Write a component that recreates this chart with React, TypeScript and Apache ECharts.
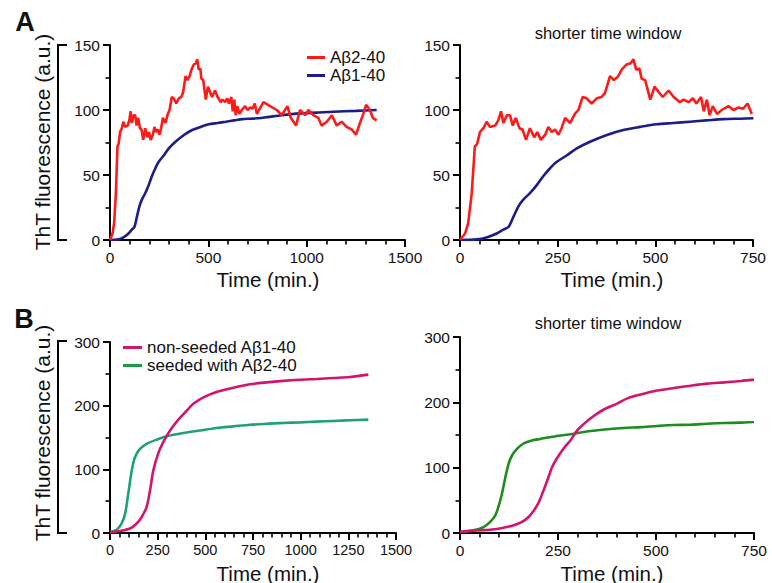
import React, { useEffect, useRef } from "react";
import * as echarts from "echarts";

const FONT = "'Liberation Sans', Arial, Helvetica, sans-serif";

// Panel A: Aβ2-40 (red) and Aβ1-40 (blue), minutes vs ThT fluorescence (a.u.)
const ab240Time = [0, 13, 21, 30, 38, 44, 51, 60, 68, 77, 90, 98, 105, 111, 120, 128, 135, 143, 152, 160, 169, 179, 190, 198, 207, 218, 226, 235, 243, 252, 260, 269, 282, 294, 303, 314, 324, 337, 350, 362, 371, 384, 394, 405, 414, 426, 437, 444, 451, 459, 465, 474, 487, 498, 508, 519, 534, 547, 563, 572, 585, 596, 605, 617, 624, 632, 639, 647, 658, 670, 687, 700, 713, 725, 736, 747, 780, 814, 848, 873, 902, 919, 946, 966, 992, 1009, 1034, 1059, 1076, 1102, 1128, 1153, 1178, 1203, 1229, 1251, 1271, 1288, 1302, 1322, 1336, 1356];
const ab240Value = [0, 5, 13, 36, 72, 74, 83, 86, 91, 87, 88, 92, 99, 90, 96, 96, 88, 94, 86, 85, 77, 86, 79, 83, 77, 81, 87, 83, 85, 81, 86, 94, 90, 97, 100, 110, 109, 105, 109, 110, 113, 126, 123, 126, 131, 135, 136, 139, 131, 132, 124, 123, 108, 118, 114, 110, 115, 110, 106, 108, 106, 109, 105, 110, 99, 108, 96, 103, 97, 100, 103, 100, 102, 101, 105, 97, 106, 103, 100, 96, 103, 94, 88, 100, 96, 100, 96, 94, 88, 91, 96, 88, 91, 87, 85, 81, 90, 97, 104, 100, 94, 92];
const ab140Time = [0, 43, 68, 94, 111, 124, 137, 150, 162, 179, 196, 213, 230, 247, 273, 299, 333, 376, 418, 461, 503, 546, 589, 631, 674, 717, 751, 800, 873, 966, 1050, 1136, 1250, 1356];
const ab140Value = [0, 0.5, 2, 5, 8, 10, 18, 26, 31, 36, 42, 49, 55, 60, 65, 70.5, 75.6, 80.8, 84.6, 87, 89, 90, 91, 92, 93, 93.3, 93.6, 94.5, 96, 97.4, 98, 98.7, 99.3, 100];

// Panel B left (full time course)
const nonSeededLeftTime = [0, 52, 105, 140, 166, 192, 210, 227, 253, 280, 315, 350, 402, 437, 490, 559, 647, 734, 822, 909, 996, 1084, 1171, 1259, 1355];
const nonSeededLeftValue = [1, 3, 7, 15, 25, 41, 67, 98, 125, 143, 161, 175, 192, 203, 213, 221.5, 228, 233.5, 236.6, 239, 240.8, 242, 243.5, 245, 248.7];
const seededLeftTime = [0, 35, 61, 79, 96, 114, 131, 157, 192, 245, 297, 385, 472, 559, 647, 734, 822, 909, 996, 1084, 1171, 1259, 1355];
const seededLeftValue = [1.5, 5, 15, 30, 62, 98, 119, 132, 140, 146.6, 151.8, 157, 161, 165, 167.5, 170, 171.7, 172.8, 173.8, 174.9, 176, 177, 178];

// Panel B right (shorter time window)
const nonSeededRightTime = [0, 43, 77, 111, 137, 158, 175, 188, 201, 213, 226, 235, 247, 264, 282, 299, 316, 341, 367, 401, 427, 461, 503, 546, 589, 631, 674, 717, 750];
const nonSeededRightValue = [1.5, 4, 5, 8, 12, 17, 24.5, 34, 47, 65, 86, 101, 114, 129, 142, 157, 167, 179, 189, 198, 206, 212, 218, 222, 225.5, 228.6, 230.6, 232.7, 234.7];
const seededRightTime = [0, 34, 60, 77, 90, 98, 107, 116, 124, 133, 146, 162, 179, 205, 247, 290, 333, 376, 418, 461, 503, 546, 589, 631, 674, 717, 750];
const seededRightValue = [1.5, 4, 9, 17, 27, 40, 60, 86, 106, 119, 129, 137, 141, 144, 148.5, 152, 156, 158.7, 160.7, 162, 163.8, 165.3, 165.8, 167.3, 168.4, 168.9, 170];

// Axis scales: [max, label step, minor ticks per label step]
const xScaleALeft = [1500, 500, 5];
const xScaleRight = [750, 250, 5];
const xScaleBLeft = [1500, 250, 5];
const yScaleA = [150, 50, 2];
const yScaleB = [300, 100, 2];

const zip = (t: number[], v: number[], maxT = Infinity) =>
  t.map((x, i) => [x, v[i]]).filter((p) => p[0] <= maxT);

const RED = "#ff1a1a";
const BLUE = "#1c1c8a";
const PINK = "#d4136e";
const TEAL = "#1fa07a";
const GREEN = "#1f8c1f";
const TXT = "#111";
const plain = (v: number) => String(v);

function axisFor(kind: "x" | "y", gridIndex: number, sc: number[], fontSize = 15.5) {
  return {
    type: "value",
    gridIndex,
    min: 0,
    max: sc[0],
    interval: sc[1],
    splitLine: { show: false },
    minorSplitLine: { show: false },
    axisLine: { show: true, onZero: false, lineStyle: { color: "#000", width: 2 } },
    axisTick: { show: true, inside: false, length: 7, lineStyle: { color: "#000", width: 2 } },
    minorTick: { show: true, splitNumber: sc[2], length: 4.5, lineStyle: { color: "#000", width: 1.6 } },
    axisLabel: {
      fontSize,
      color: TXT,
      fontFamily: FONT,
      margin: kind === "x" ? 9 : 10,
      showMaxLabel: true,
      formatter: plain,
    },
  };
}

function line(name: string, data: number[][], color: string, xi: number, smooth: number | boolean = false) {
  return {
    type: "line", name, data, xAxisIndex: xi, yAxisIndex: xi, symbol: "none", smooth, clip: true,
    lineStyle: { color, width: 2.6 }, itemStyle: { color },
  };
}

function text(x: number, y: number, str: string, fontSize: number, extra: any = {}) {
  return {
    type: "text", x, y, rotation: extra.rotation || 0,
    style: { text: str, fontSize, fontFamily: FONT, fontWeight: extra.bold ? "bold" : "normal", fill: TXT, align: "center", verticalAlign: "middle" },
  };
}

function bracket(top: number, bottom: number) {
  return {
    type: "polyline",
    shape: { points: [[67, top], [58, top], [58, bottom], [67, bottom]] },
    style: { stroke: "#000", lineWidth: 2, fill: "none" },
  };
}

const option = {
  animation: false,
  backgroundColor: "#fff",
  textStyle: { fontFamily: FONT },
  grid: [
    { left: 110, top: 45, width: 295, height: 195 },
    { left: 460, top: 45, width: 293, height: 195 },
    { left: 110, top: 342, width: 286, height: 191 },
    { left: 460, top: 337, width: 294, height: 196 },
  ],
  xAxis: [
    axisFor("x", 0, xScaleALeft),
    axisFor("x", 1, xScaleRight),
    axisFor("x", 2, xScaleBLeft, 14.5),
    axisFor("x", 3, xScaleRight),
  ],
  yAxis: [axisFor("y", 0, yScaleA), axisFor("y", 1, yScaleA), axisFor("y", 2, yScaleB), axisFor("y", 3, yScaleB)],
  legend: [
    {
      left: 302, top: 44, orient: "vertical", icon: "rect", itemWidth: 18, itemHeight: 3, itemGap: 1, selectedMode: false,
      textStyle: { fontSize: 17, color: TXT, fontFamily: FONT },
      data: [
        { name: "Aβ2-40", itemStyle: { color: RED } },
        { name: "Aβ1-40", itemStyle: { color: BLUE } },
      ],
    },
    {
      left: 118, top: 334, orient: "vertical", icon: "rect", itemWidth: 19, itemHeight: 3, itemGap: 1, selectedMode: false,
      textStyle: { fontSize: 17, color: TXT, fontFamily: FONT },
      data: [
        { name: "non-seeded Aβ1-40", itemStyle: { color: PINK } },
        { name: "seeded with Aβ2-40", itemStyle: { color: "#1a9a45" } },
      ],
    },
  ],
  series: [
    line("Aβ1-40", zip(ab140Time, ab140Value), BLUE, 0, 0.3),
    line("Aβ2-40", zip(ab240Time, ab240Value), RED, 0),
    line("Aβ1-40", zip(ab140Time, ab140Value, 760), BLUE, 1, 0.3),
    line("Aβ2-40", zip(ab240Time, ab240Value, 750), RED, 1),
    line("seeded with Aβ2-40", zip(seededLeftTime, seededLeftValue), TEAL, 2, 0.3),
    line("non-seeded Aβ1-40", zip(nonSeededLeftTime, nonSeededLeftValue), PINK, 2, 0.3),
    line("seeded with Aβ2-40", zip(seededRightTime, seededRightValue), GREEN, 3, 0.3),
    line("non-seeded Aβ1-40", zip(nonSeededRightTime, nonSeededRightValue), PINK, 3, 0.3),
  ],
  graphic: [
    text(25, 22, "A", 27, { bold: true }),
    text(24, 319, "B", 27, { bold: true }),
    text(42, 142, "ThT fluorescence (a.u.)", 21, { rotation: Math.PI / 2 }),
    text(42, 433, "ThT fluorescence (a.u.)", 21, { rotation: Math.PI / 2 }),
    bracket(45, 240),
    bracket(341, 533),
    text(268, 279, "Time (min.)", 20.5),
    text(612, 279, "Time (min.)", 20.5),
    text(268, 573, "Time (min.)", 20.5),
    text(612, 573, "Time (min.)", 20.5),
    text(608, 33, "shorter time window", 16.5),
    text(608, 323, "shorter time window", 16.5),
  ],
};

export default function App() {
  const ref = useRef<HTMLDivElement>(null);
  useEffect(() => {
    const chart = echarts.init(ref.current!, null, { renderer: "svg" });
    chart.setOption(option as any);
    return () => chart.dispose();
  }, []);
  return (
    <div ref={ref} style={{ position: "fixed", left: 0, top: 0, width: 772, height: 583, background: "#fff" }} />
  );
}
